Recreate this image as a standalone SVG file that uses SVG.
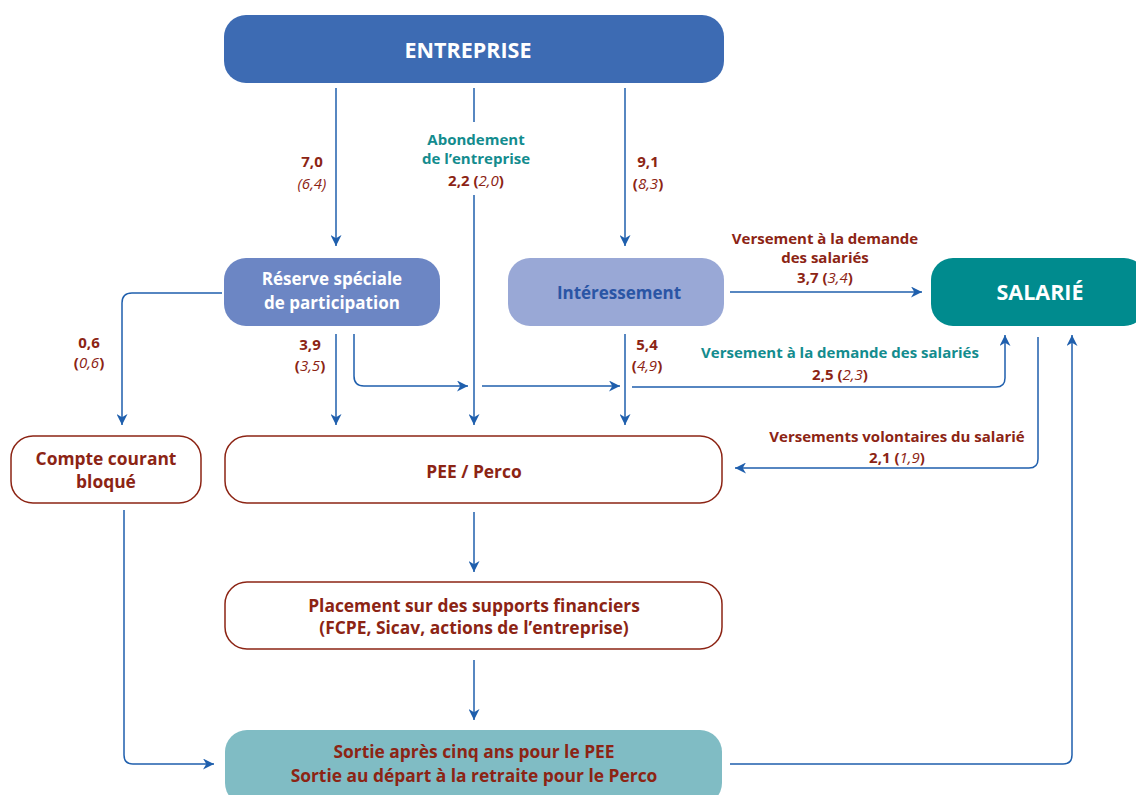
<svg xmlns="http://www.w3.org/2000/svg" width="1136" height="795" viewBox="0 0 1136 795">
<defs>
<style>
text{font-family:"Open Sans","Noto Sans","Liberation Sans",sans-serif;font-weight:700;text-anchor:middle}
.w{fill:#ffffff}
.big{font-size:21.5px}
.bx{font-size:17px}
.br{fill:#8c2414;font-size:17.4px}
.r{fill:#8c2414;font-size:15px}
.t{fill:#138c8e;font-size:15px}
.it{font-style:italic;font-weight:500}
.c{fill:none;stroke:#1f5fad;stroke-width:1.5}
.ob{fill:#ffffff;stroke:#8c2414;stroke-width:1.5}
</style>
<marker id="ah" viewBox="0 0 10 10" refX="10" refY="5" markerWidth="11" markerHeight="11" markerUnits="userSpaceOnUse" orient="auto">
<path d="M0,0 L10,5 L0,10 L3,5 z" fill="#1f5fad"/>
</marker>
</defs>

<g id="entreprise">
<rect x="224" y="15" width="500" height="68" rx="22" fill="#3d6bb3"/>
<text class="w big" x="468" y="58">ENTREPRISE</text>
</g>
<g id="reserve">
<rect x="224" y="258" width="216" height="68" rx="22" fill="#6c86c4"/>
<text class="w bx" x="332" y="285">Réserve spéciale</text>
<text class="w bx" x="332" y="309">de participation</text>
</g>
<g id="interessement">
<rect x="508" y="258" width="216" height="68" rx="22" fill="#99a8d6"/>
<text class="bx" x="619" y="299" fill="#2a55a5">Intéressement</text>
</g>
<g id="salarie">
<rect x="931" y="258" width="215" height="68" rx="22" fill="#008b8e"/>
<text class="w big" x="1040" y="300">SALARIÉ</text>
</g>
<g id="compte">
<rect class="ob" x="11" y="436" width="190" height="67" rx="22"/>
<text class="br" x="106" y="465">Compte courant</text>
<text class="br" x="106" y="488">bloqué</text>
</g>
<g id="pee">
<rect class="ob" x="225" y="436" width="497" height="67" rx="22"/>
<text class="br" x="474" y="478">PEE / Perco</text>
</g>
<g id="placement">
<rect class="ob" x="225" y="582" width="497" height="67" rx="22"/>
<text class="br" x="474" y="612">Placement sur des supports financiers</text>
<text class="br" x="474" y="634">(FCPE, Sicav, actions de l’entreprise)</text>
</g>
<g id="sortie">
<rect x="225" y="730" width="497" height="75" rx="22" fill="#80bcc4"/>
<text class="br" x="474" y="758">Sortie après cinq ans pour le PEE</text>
<text class="br" x="474" y="782">Sortie au départ à la retraite pour le Perco</text>
</g>

<g id="connectors">
<path class="c" d="M336,88 V246" marker-end="url(#ah)"/>
<path class="c" d="M474,88 V122"/>
<path class="c" d="M474,195 V425" marker-end="url(#ah)"/>
<path class="c" d="M625,88 V246" marker-end="url(#ah)"/>
<path class="c" d="M730,292 H922" marker-end="url(#ah)"/>
<path class="c" d="M222,293 H132 Q122,293 122,303 V425" marker-end="url(#ah)"/>
<path class="c" d="M336,334 V425" marker-end="url(#ah)"/>
<path class="c" d="M354,334 V376 Q354,386 364,386 H468" marker-end="url(#ah)"/>
<path class="c" d="M482,386 H620" marker-end="url(#ah)"/>
<path class="c" d="M625,334 V425" marker-end="url(#ah)"/>
<path class="c" d="M632,387 H996 Q1005,387 1005,378 V335" marker-end="url(#ah)"/>
<path class="c" d="M1038,337 V459 Q1038,468 1029,468 H735" marker-end="url(#ah)"/>
<path class="c" d="M474,512 V572" marker-end="url(#ah)"/>
<path class="c" d="M474,660 V720" marker-end="url(#ah)"/>
<path class="c" d="M124,510 V755 Q124,764 133,764 H214" marker-end="url(#ah)"/>
<path class="c" d="M730,764 H1063 Q1072,764 1072,755 V335" marker-end="url(#ah)"/>
</g>

<g id="labels">
<text class="r" x="312" y="167">7,0</text>
<text class="r it" x="312" y="189">(6,4)</text>
<text class="t" x="476" y="145">Abondement</text>
<text class="t" x="476" y="164">de l’entreprise</text>
<text class="r" x="476" y="186">2,2 (<tspan class="it">2,0</tspan>)</text>
<text class="r" x="648" y="167">9,1</text>
<text class="r" x="648" y="189">(<tspan class="it">8,3</tspan>)</text>
<text class="r" x="825" y="244">Versement à la demande</text>
<text class="r" x="825" y="263">des salariés</text>
<text class="r" x="825" y="283">3,7 (<tspan class="it">3,4</tspan>)</text>
<text class="r" x="89" y="348">0,6</text>
<text class="r" x="89" y="368">(<tspan class="it">0,6</tspan>)</text>
<text class="r" x="310" y="350">3,9</text>
<text class="r" x="310" y="371">(<tspan class="it">3,5</tspan>)</text>
<text class="r" x="647" y="350">5,4</text>
<text class="r" x="647" y="371">(<tspan class="it">4,9</tspan>)</text>
<text class="t" x="840" y="358">Versement à la demande des salariés</text>
<text class="r" x="840" y="380">2,5 (<tspan class="it">2,3</tspan>)</text>
<text class="r" x="897" y="442">Versements volontaires du salarié</text>
<text class="r" x="897" y="463">2,1 (<tspan class="it">1,9</tspan>)</text>
</g>
</svg>
